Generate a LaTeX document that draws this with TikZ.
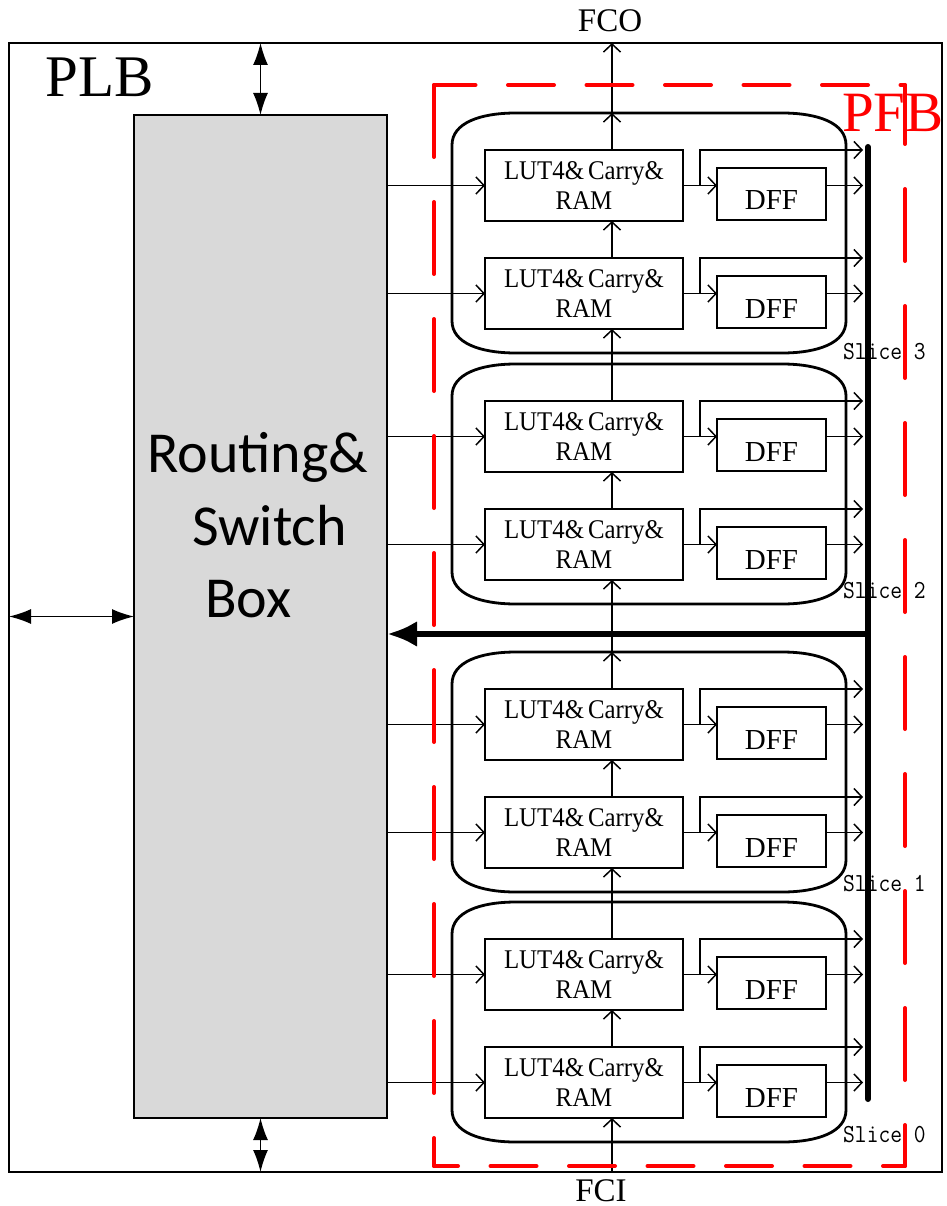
\documentclass[tikz,border=0pt]{standalone}
\usepackage{fontspec}
\setmainfont{Liberation Serif}
\newfontfamily\rsbfont{Carlito}
\newfontfamily\lutfont[FakeStretch=0.92]{Liberation Serif}
\usetikzlibrary{arrows.meta}
\definecolor{boxgray}{HTML}{D9D9D9}
\tikzset{
  conn/.style={line width=1.5pt, -{Straight Barb[length=8pt,width=17pt]}},
  dbl/.style={line width=1.5pt, {Latex[length=22pt,width=15pt]}-{Latex[length=22pt,width=15pt]}},
  lutbox/.style={draw, line width=1.6pt, minimum width=198pt, minimum height=71pt, anchor=north west, inner sep=0pt, outer sep=0pt, align=center, font=\lutfont\fontsize{27}{30}\selectfont},
  dffbox/.style={draw, line width=1.6pt, minimum width=109pt, minimum height=52pt, anchor=north west, inner sep=0pt, outer sep=0pt, text height=34pt, text depth=2pt, font=\fontsize{29}{34}\selectfont},
  slicebox/.style={line width=2.8pt},
  slicelbl/.style={anchor=base west, inner sep=0pt, font=\ttfamily\fontsize{26}{28}\selectfont},
  rsbtext/.style={anchor=base west, inner sep=0pt, font=\rsbfont\fontsize{58}{60}\selectfont},
  reddash/.style={draw=red, line width=4pt, line cap=round},
  plain/.style={anchor=base, inner sep=0pt, font=\fontsize{33}{36}\selectfont},
}
\newcommand\sliceframe[2]{%
  \draw[slicebox] (452,#1+32) -- (452,#2-32) .. controls (452,#2-10) and (480,#2) .. (516,#2) -- (782,#2) .. controls (818,#2) and (846,#2-10) .. (846,#2-32) -- (846,#1+32) .. controls (846,#1+10) and (818,#1) .. (782,#1) -- (516,#1) .. controls (480,#1) and (452,#1+10) .. (452,#1+32) -- cycle;}
\begin{document}
\begin{tikzpicture}[x=1pt,y=-1pt]
\useasboundingbox (0,0) rectangle (946,1206);
% outer PLB
\node[draw, line width=1.4pt, minimum width=933pt, minimum height=1129pt, anchor=north west, inner sep=0pt, outer sep=0pt] (plb) at (9,43) {};
\node[anchor=base west, inner sep=0pt, font=\fontsize{59}{62}\selectfont] (plbl) at (45,97) {PLB};
% routing & switch box
\node[draw, fill=boxgray, line width=1.4pt, minimum width=253pt, minimum height=1003pt, anchor=north west, inner sep=0pt, outer sep=0pt] (rsb) at (134,115) {};
\node[rsbtext] (rt1) at (147,472) {Routing\&};
\node[rsbtext] (rt2) at (192,545) {Switch};
\node[rsbtext] (rt3) at (205,617) {Box};
\draw[dbl] (rsb.north) -- (rsb.north |- plb.north);
\draw[dbl] (rsb.south) -- (rsb.south |- plb.south);
\draw[dbl] (rsb.west) -- (rsb.west -| plb.west);
% helper coordinates
\coordinate (cx) at (612,0);
\coordinate (brx) at (700,0);
\coordinate (busl) at (863,0);
% slices
\foreach \i/\t/\lb in {3/150/359, 2/401/598, 1/689/891, 0/939/1142}{
  \sliceframe{\t-37}{\t+203}
  \coordinate (S\i top) at (612,\t-37);
  \node[lutbox] (L\i u) at (485,\t) {LUT4\&\hspace{4pt}Carry\&\\RAM};
  \node[lutbox] (L\i l) at (485,\t+108) {LUT4\&\hspace{4pt}Carry\&\\RAM};
  \node[dffbox] (D\i u) at (717,\t+18) {DFF};
  \node[dffbox] (D\i l) at (717,\t+126) {DFF};
  \foreach \p in {u,l}{
    \draw[conn] (rsb.east |- L\i\p.west) -- (L\i\p.west);
    \draw[conn] (L\i\p.east) -- (L\i\p.east -| D\i\p.west);
    \draw[conn] (L\i\p.east -| brx) |- (L\i\p.north -| busl);
    \draw[conn] (D\i\p.east |- L\i\p.east) -- (L\i\p.east -| busl);
  }
  \draw[conn] (L\i l.north -| cx) -- (L\i u.south -| cx);
  \node[slicelbl] (SL\i) at (843,\lb) {\scalebox{0.88}[1]{Slice \i}};
}
% carry chain
\draw[conn] (plb.south -| cx) -- (L0l.south -| cx);
\draw[conn] (L0u.north -| cx) -- (L1l.south -| cx);
\draw[conn] (L1u.north -| cx) -- (S1top);
\draw[conn] (S1top) -- (L2l.south -| cx);
\draw[conn] (L2u.north -| cx) -- (L3l.south -| cx);
\draw[conn] (L3u.north -| cx) -- (S3top);
\draw[conn] (S3top) -- (plb.north -| cx);
\node[plain] (fco) at (610,32) {FCO};
\node[plain] (fci) at (601,1201) {FCI};
% bus
\coordinate (bt) at (868,147);
\coordinate (bb) at (868,1099);
\coordinate (bm) at (868,634);
\draw[line width=6pt, line cap=round] (bt) -- (bb);
\draw[line width=6.5pt, -{Latex[length=30pt,width=26pt]}] (bm) -- (rsb.east |- bm);
% PFB
\node[anchor=base west, inner sep=0pt, text=red, font=\fontsize{57}{60}\selectfont] (pfbl) at (842,132) {PFB};
\coordinate (pnw) at (434,85);
\coordinate (pse) at (905,1166);
\draw[reddash, dash pattern=on 46pt off 32.5pt, dash phase=4.5pt] (pnw) -- (pnw -| pse);
\draw[reddash, dash pattern=on 46pt off 32.5pt, dash phase=22pt] (pnw |- pse) -- (pse);
\draw[reddash, dash pattern=on 72pt off 45pt] (pnw) -- (pnw |- pse);
\draw[reddash, dash pattern=on 72pt off 45pt, dash phase=13pt] (pnw -| pse) -- (pse);
\end{tikzpicture}
\end{document}
